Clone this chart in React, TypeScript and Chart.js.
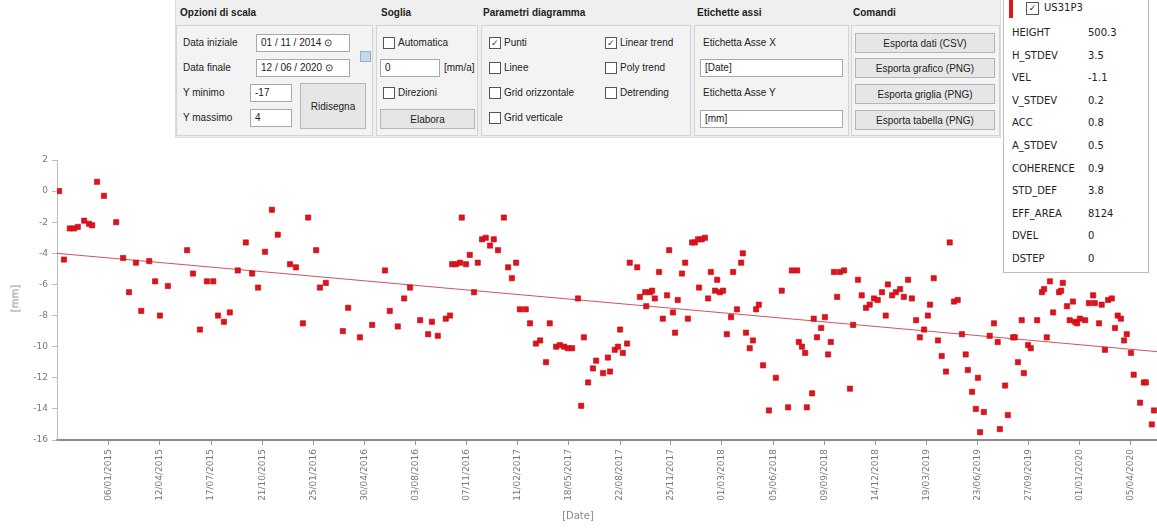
import React, { useEffect, useRef } from 'react';
import { Chart, registerables } from 'chart.js';

Chart.register(...registerables);

// ---------------- data ----------------
const dates = [
  '2014-10-05','2014-10-14','2014-10-25','2014-11-02','2014-11-09','2014-11-21','2014-11-30','2014-12-06','2014-12-15','2014-12-28',
  '2015-01-20','2015-02-02','2015-02-13','2015-02-26','2015-03-08','2015-03-23','2015-04-03','2015-04-12','2015-04-27','2015-06-02',
  '2015-06-13','2015-06-26','2015-07-09','2015-07-21','2015-07-30','2015-08-10','2015-08-21','2015-09-05','2015-09-20','2015-10-02',
  '2015-10-13','2015-10-26','2015-11-08','2015-11-19','2015-12-12','2015-12-23','2016-01-05','2016-01-15','2016-01-30','2016-02-06',
  '2016-02-17','2016-03-20','2016-03-30','2016-04-21','2016-05-14','2016-06-07','2016-06-16','2016-07-01','2016-07-13','2016-07-24',
  '2016-08-12','2016-08-27','2016-09-03','2016-09-14','2016-09-29','2016-10-07','2016-10-11','2016-10-18','2016-10-26','2016-10-29',
  '2016-11-06','2016-11-13','2016-11-21','2016-11-28','2016-12-06','2016-12-13','2016-12-21','2016-12-28','2017-01-05','2017-01-16',
  '2017-01-24','2017-01-31','2017-02-08','2017-02-15','2017-02-26','2017-03-06','2017-03-17','2017-03-25','2017-04-05','2017-04-12',
  '2017-04-24','2017-05-01','2017-05-09','2017-05-16','2017-05-24','2017-06-04','2017-06-10','2017-06-15','2017-06-23','2017-07-02',
  '2017-07-08','2017-07-21','2017-07-30','2017-08-03','2017-08-12','2017-08-18','2017-08-22','2017-08-27','2017-09-04','2017-09-09',
  '2017-09-23','2017-09-28','2017-10-08','2017-10-10','2017-10-17','2017-10-21','2017-10-26','2017-11-03','2017-11-10','2017-11-18',
  '2017-11-22','2017-11-29','2017-12-03','2017-12-08','2017-12-16','2017-12-22','2017-12-27','2018-01-04','2018-01-09','2018-01-15',
  '2018-01-17','2018-01-22','2018-01-28','2018-02-03','2018-02-08','2018-02-16','2018-02-20','2018-02-25','2018-03-03','2018-03-10',
  '2018-03-18','2018-03-22','2018-03-29','2018-04-06','2018-04-09','2018-04-15','2018-04-22','2018-04-28','2018-05-04','2018-05-09',
  '2018-05-17','2018-05-28','2018-06-10','2018-06-21','2018-07-03','2018-07-10','2018-07-20','2018-07-23','2018-07-29','2018-08-04',
  '2018-08-07','2018-08-17','2018-08-20','2018-08-26','2018-09-03','2018-09-10','2018-09-16','2018-09-21','2018-09-27','2018-10-03',
  '2018-10-08','2018-10-16','2018-10-27','2018-11-02','2018-11-11','2018-11-18','2018-11-26','2018-12-03','2018-12-11','2018-12-18',
  '2018-12-26','2019-01-02','2019-01-06','2019-01-14','2019-01-21','2019-01-29','2019-02-05','2019-02-13','2019-02-20','2019-02-28',
  '2019-03-07','2019-03-15','2019-03-22','2019-03-26','2019-04-02','2019-04-10','2019-04-17','2019-04-25','2019-05-02','2019-05-10',
  '2019-05-17','2019-05-25','2019-06-01','2019-06-05','2019-06-13','2019-06-20','2019-06-24','2019-06-28','2019-07-05','2019-07-16',
  '2019-07-24','2019-07-31','2019-08-04','2019-08-14','2019-08-19','2019-08-29','2019-09-01','2019-09-07','2019-09-14','2019-09-18',
  '2019-09-26','2019-10-01','2019-10-13','2019-10-22','2019-10-26','2019-10-31','2019-11-06','2019-11-12','2019-11-23','2019-11-27',
  '2019-11-30','2019-12-08','2019-12-13','2019-12-19','2019-12-23','2019-12-27','2020-01-01','2020-01-11','2020-01-18','2020-01-26',
  '2020-01-29','2020-02-06','2020-02-11','2020-02-17','2020-02-23','2020-03-01','2020-03-07','2020-03-12','2020-03-18','2020-03-24',
  '2020-03-29','2020-04-06','2020-04-11','2020-04-23','2020-04-30','2020-05-04','2020-05-15','2020-05-19',
];

const displacement = [
  0.0, -4.4, -2.4, -2.4, -2.3, -1.9, -2.1, -2.2, 0.6, -0.3,
  -2.0, -4.3, -6.5, -4.6, -7.7, -4.5, -5.8, -8.0, -6.1, -3.8,
  -5.3, -8.9, -5.8, -5.8, -8.0, -8.4, -7.8, -5.1, -3.3, -5.3,
  -6.2, -3.9, -1.2, -2.8, -4.7, -4.9, -8.5, -1.7, -3.8, -6.2,
  -5.9, -9.0, -7.5, -9.4, -8.6, -5.1, -7.7, -8.7, -6.9, -6.2,
  -8.3, -9.2, -8.4, -9.3, -8.2, -8.0, -4.7, -4.7, -4.6, -1.7,
  -4.7, -4.1, -6.5, -4.6, -3.1, -3.0, -3.5, -3.1, -3.8, -1.7,
  -4.9, -5.6, -4.6, -7.6, -7.6, -8.5, -9.8, -9.6, -11.0, -8.5,
  -10.0, -9.9, -10.0, -10.1, -10.1, -6.9, -13.8, -9.4, -12.3, -11.4,
  -10.9, -11.7, -10.7, -11.6, -10.2, -10.0, -8.9, -10.4, -9.8, -4.6,
  -4.9, -6.8, -6.5, -7.4, -6.5, -6.4, -6.9, -5.2, -8.2, -6.7,
  -3.8, -7.8, -9.1, -7.0, -5.3, -4.6, -8.2, -3.3, -3.3, -3.1,
  -6.2, -3.1, -3.0, -6.9, -5.2, -6.4, -5.7, -6.5, -6.4, -9.2,
  -8.1, -5.2, -7.6, -4.6, -4.0, -9.1, -10.1, -9.6, -7.6, -7.3,
  -11.2, -14.1, -12.0, -6.4, -13.9, -5.1, -5.1, -9.7, -10.0, -10.4,
  -13.9, -13.0, -8.2, -9.4, -8.8, -8.1, -10.5, -9.7, -5.2, -6.8,
  -5.2, -5.1, -12.7, -8.6, -5.7, -6.7, -7.5, -7.3, -6.9, -7.0,
  -6.5, -8.0, -6.0, -6.7, -6.5, -6.3, -6.8, -5.7, -6.9, -8.3,
  -9.4, -8.9, -8.0, -7.3, -5.6, -9.6, -10.6, -11.6, -3.3, -7.1,
  -7.0, -9.2, -10.5, -11.5, -12.9, -14.0, -12.0, -15.5, -14.2, -9.3,
  -8.5, -9.7, -15.3, -12.5, -14.4, -9.4, -9.4, -11.0, -8.3, -11.7,
  -9.9, -10.1, -8.3, -6.5, -6.3, -9.4, -5.8, -7.8, -6.5, -6.4,
  -5.9, -7.4, -8.3, -7.1, -8.4, -8.5, -8.2, -8.3, -7.2, -6.7,
  -7.2, -8.5, -7.3, -10.2, -7.0, -6.9, -8.8, -8.0, -8.2, -9.6,
  -9.2, -10.4, -11.8, -13.6, -12.3, -12.3, -15.0, -14.1,
];

const xTickDates = [
  '2015-01-06','2015-04-12','2015-07-17','2015-10-21','2016-01-25','2016-04-30','2016-08-03',
  '2016-11-07','2017-02-11','2017-05-18','2017-08-22','2017-11-25','2018-03-01','2018-06-05',
  '2018-09-09','2018-12-14','2019-03-19','2019-06-23','2019-09-27','2020-01-01','2020-04-05',
];

const axisStartDate = '2014-10-01';
const axisEndDate = '2020-06-20';
const yMin = -16;
const yMax = 2;
const yStep = 2;

// linear trend at the axis extremes
const trendDates = ['2014-10-01', '2020-06-20'];
const trendValues = [-4.0, -10.4];

const pointName = 'US31P3';
const attrNames = ['HEIGHT','H_STDEV','VEL','V_STDEV','ACC','A_STDEV','COHERENCE','STD_DEF','EFF_AREA','DVEL','DSTEP'];
const attrValues = ['500.3','3.5','-1.1','0.2','0.8','0.5','0.9','3.8','8124','0','0'];

// ----------------------------------------------------------------

const pad2 = (n: number) => (n < 10 ? '0' + n : '' + n);
const fmtDate = (ms: number) => {
  const d = new Date(ms);
  return `${pad2(d.getUTCDate())}/${pad2(d.getUTCMonth() + 1)}/${d.getUTCFullYear()}`;
};

const UI_FONT = '"Liberation Sans", Arial, sans-serif';
const CH_FONT = '"DejaVu Sans", sans-serif';

const Txt = ({ x, y, children, style }: any) => (
  <div style={{ position: 'absolute', left: x, top: y - 7, height: 14, lineHeight: '14px', whiteSpace: 'nowrap', ...style }}>
    {children}
  </div>
);

const Check = ({ x, y, checked, label }: any) => (
  <div style={{ position: 'absolute', left: x, top: y - 7, height: 14, lineHeight: '14px', whiteSpace: 'nowrap', display: 'flex', alignItems: 'center' }}>
    <span style={{ display: 'inline-block', width: 10, height: 10, border: '1px solid #555', background: '#fff', marginRight: 3, fontSize: 9, lineHeight: '10px', textAlign: 'center', color: '#333' }}>
      {checked ? '✓' : ''}
    </span>
    <span>{label}</span>
  </div>
);

const Input = ({ x, y, w, h = 18, value }: any) => (
  <div style={{ position: 'absolute', left: x, top: y, width: w, height: h, background: '#fff', border: '1px solid #a9a9a9', boxSizing: 'border-box', lineHeight: h - 2 + 'px', paddingLeft: 4, whiteSpace: 'nowrap', overflow: 'hidden' }}>
    {value}
  </div>
);

const Button = ({ x, y, w, h = 20, label }: any) => (
  <div style={{ position: 'absolute', left: x, top: y, width: w, height: h, background: '#e6e6e6', border: '1px solid #b5b5b5', boxSizing: 'border-box', display: 'flex', alignItems: 'center', justifyContent: 'center', whiteSpace: 'nowrap' }}>
    {label}
  </div>
);

const Group = ({ x, y, w, h }: any) => (
  <div style={{ position: 'absolute', left: x, top: y, width: w, height: h, border: '1px solid #d4d4d4', background: '#f3f3f3', boxSizing: 'border-box' }} />
);

export default function App() {
  const canvasRef = useRef<HTMLCanvasElement | null>(null);

  useEffect(() => {
    const canvas = canvasRef.current;
    if (!canvas) return;
    const points = dates.map((d, i) => ({ x: Date.parse(d), y: displacement[i] }));
    const trend = trendDates.map((d, i) => ({ x: Date.parse(d), y: trendValues[i] }));
    const tickFont = { family: CH_FONT, size: 9 };

    const chart = new Chart(canvas, {
      type: 'scatter',
      data: {
        datasets: [
          {
            type: 'scatter',
            label: pointName,
            data: points,
            pointStyle: 'rect',
            pointRadius: 3.7,
            backgroundColor: '#e3111b',
            borderColor: '#b70c14',
            borderWidth: 0.6,
            order: 0,
          } as any,
          {
            type: 'line',
            label: 'Linear trend',
            data: trend,
            borderColor: '#d9505c',
            borderWidth: 1,
            pointRadius: 0,
            fill: false,
            order: 1,
          } as any,
        ],
      },
      options: {
        animation: false,
        responsive: false,
        maintainAspectRatio: false,
        devicePixelRatio: 1,
        layout: { padding: { top: 20, right: 9, left: 0, bottom: 0 } },
        plugins: { legend: { display: false }, tooltip: { enabled: false }, title: { display: false } },
        scales: {
          x: {
            type: 'linear',
            min: Date.parse(axisStartDate),
            max: Date.parse(axisEndDate),
            afterBuildTicks: (scale: any) => {
              scale.ticks = xTickDates.map((d) => ({ value: Date.parse(d) }));
            },
            afterFit: (scale: any) => {
              scale.height = 88;
            },
            ticks: {
              autoSkip: false,
              maxRotation: 90,
              minRotation: 90,
              padding: 4,
              color: '#777',
              font: tickFont,
              callback: (v: any) => fmtDate(Number(v)),
            },
            grid: { drawOnChartArea: false, drawTicks: true, tickLength: 5, color: '#999' },
            border: { color: '#8a8a8a', width: 2 },
          },
          y: {
            min: yMin,
            max: yMax,
            afterFit: (scale: any) => {
              scale.width = 57;
            },
            ticks: { stepSize: yStep, color: '#777', font: tickFont, padding: 4 },
            grid: { drawOnChartArea: false, drawTicks: true, tickLength: 5, color: '#bbb' },
            border: { color: '#bdbdbd', width: 1 },
          },
        },
      } as any,
    });
    return () => chart.destroy();
  }, []);

  const rowY0 = 33;
  const rowStep = 22.6;

  return (
    <div style={{ position: 'fixed', left: 0, top: 0, width: '100vw', height: '100vh', overflow: 'hidden', background: '#fff', fontFamily: UI_FONT, fontSize: 10, color: '#222' }}>
      {/* chart */}
      <canvas ref={canvasRef} width={1180} height={388} style={{ position: 'absolute', left: 0, top: 140, width: 1180, height: 388 }} />
      <div style={{ position: 'absolute', left: 555, top: 510, width: 46, textAlign: 'center', fontFamily: CH_FONT, fontSize: 10, color: '#888' }}>[Date]</div>
      <div style={{ position: 'absolute', left: -7, top: 293, width: 44, textAlign: 'center', fontFamily: CH_FONT, fontSize: 10, color: '#888', transform: 'rotate(-90deg)' }}>[mm]</div>

      {/* control panel */}
      <div style={{ position: 'absolute', left: 175, top: -1, width: 826, height: 139, background: '#efefef', border: '1px solid #dcdcdc', boxSizing: 'border-box' }} />
      <Txt x={180} y={13} style={{ fontWeight: 'bold' }}>Opzioni di scala</Txt>
      <Txt x={381} y={13} style={{ fontWeight: 'bold' }}>Soglia</Txt>
      <Txt x={483} y={13} style={{ fontWeight: 'bold' }}>Parametri diagramma</Txt>
      <Txt x={697} y={13} style={{ fontWeight: 'bold' }}>Etichette assi</Txt>
      <Txt x={853} y={13} style={{ fontWeight: 'bold' }}>Comandi</Txt>

      <Group x={176} y={25} w={197} h={111} />
      <Group x={376} y={25} w={102} h={111} />
      <Group x={481} y={25} w={210} h={111} />
      <Group x={694} y={25} w={155} h={111} />
      <Group x={851} y={25} w={149} h={111} />

      <Txt x={183} y={43}>Data iniziale</Txt>
      <Input x={256} y={34} w={94} value={'01 / 11 / 2014 ⊙'} />
      <Txt x={183} y={68}>Data finale</Txt>
      <Input x={256} y={59} w={94} value={'12 / 06 / 2020 ⊙'} />
      <div style={{ position: 'absolute', left: 360, top: 51, width: 9, height: 9, background: '#c5d8ea', border: '1px solid #8fb0d0' }} />
      <Txt x={183} y={93}>Y minimo</Txt>
      <Input x={250} y={84} w={42} value={'-17'} />
      <Txt x={183} y={118}>Y massimo</Txt>
      <Input x={250} y={109} w={42} value={'4'} />
      <Button x={300} y={83} w={66} h={46} label={'Ridisegna'} />

      <Check x={383} y={43} checked={false} label={'Automatica'} />
      <Input x={380} y={59} w={60} value={'0'} />
      <Txt x={444} y={68}>[mm/a]</Txt>
      <Check x={383} y={93} checked={false} label={'Direzioni'} />
      <Button x={380} y={109} w={95} h={20} label={'Elabora'} />

      <Check x={489} y={43} checked={true} label={'Punti'} />
      <Check x={489} y={68} checked={false} label={'Linee'} />
      <Check x={489} y={93} checked={false} label={'Grid orizzontale'} />
      <Check x={489} y={118} checked={false} label={'Grid verticale'} />
      <Check x={605} y={43} checked={true} label={'Linear trend'} />
      <Check x={605} y={68} checked={false} label={'Poly trend'} />
      <Check x={605} y={93} checked={false} label={'Detrending'} />

      <Txt x={703} y={43}>Etichetta Asse X</Txt>
      <Input x={700} y={59} w={143} value={'[Date]'} />
      <Txt x={703} y={93}>Etichetta Asse Y</Txt>
      <Input x={700} y={110} w={143} value={'[mm]'} />

      <Button x={855} y={33} w={140} label={'Esporta dati (CSV)'} />
      <Button x={855} y={58} w={140} label={'Esporta grafico (PNG)'} />
      <Button x={855} y={84} w={140} label={'Esporta griglia (PNG)'} />
      <Button x={855} y={110} w={140} label={'Esporta tabella (PNG)'} />

      {/* attribute box */}
      <div style={{ position: 'absolute', left: 1003, top: -2, width: 146, height: 275, background: '#fff', border: '1px solid #bdbdbd', boxSizing: 'border-box' }} />
      <div style={{ position: 'absolute', left: 1009, top: 0, width: 4, height: 18, background: '#e8121c' }} />
      <div style={{ position: 'absolute', left: 1026, top: 2, width: 11, height: 11, border: '1px solid #555', background: '#fff', fontSize: 9, lineHeight: '11px', textAlign: 'center', fontFamily: CH_FONT }}>✓</div>
      <Txt x={1044} y={8} style={{ fontFamily: CH_FONT, fontSize: 10 }}>{pointName}</Txt>
      {attrNames.map((n, i) => (
        <React.Fragment key={n}>
          <Txt x={1012} y={rowY0 + i * rowStep} style={{ fontFamily: CH_FONT, fontSize: 10 }}>{n}</Txt>
          <Txt x={1088} y={rowY0 + i * rowStep} style={{ fontFamily: CH_FONT, fontSize: 10 }}>{attrValues[i]}</Txt>
        </React.Fragment>
      ))}
    </div>
  );
}
